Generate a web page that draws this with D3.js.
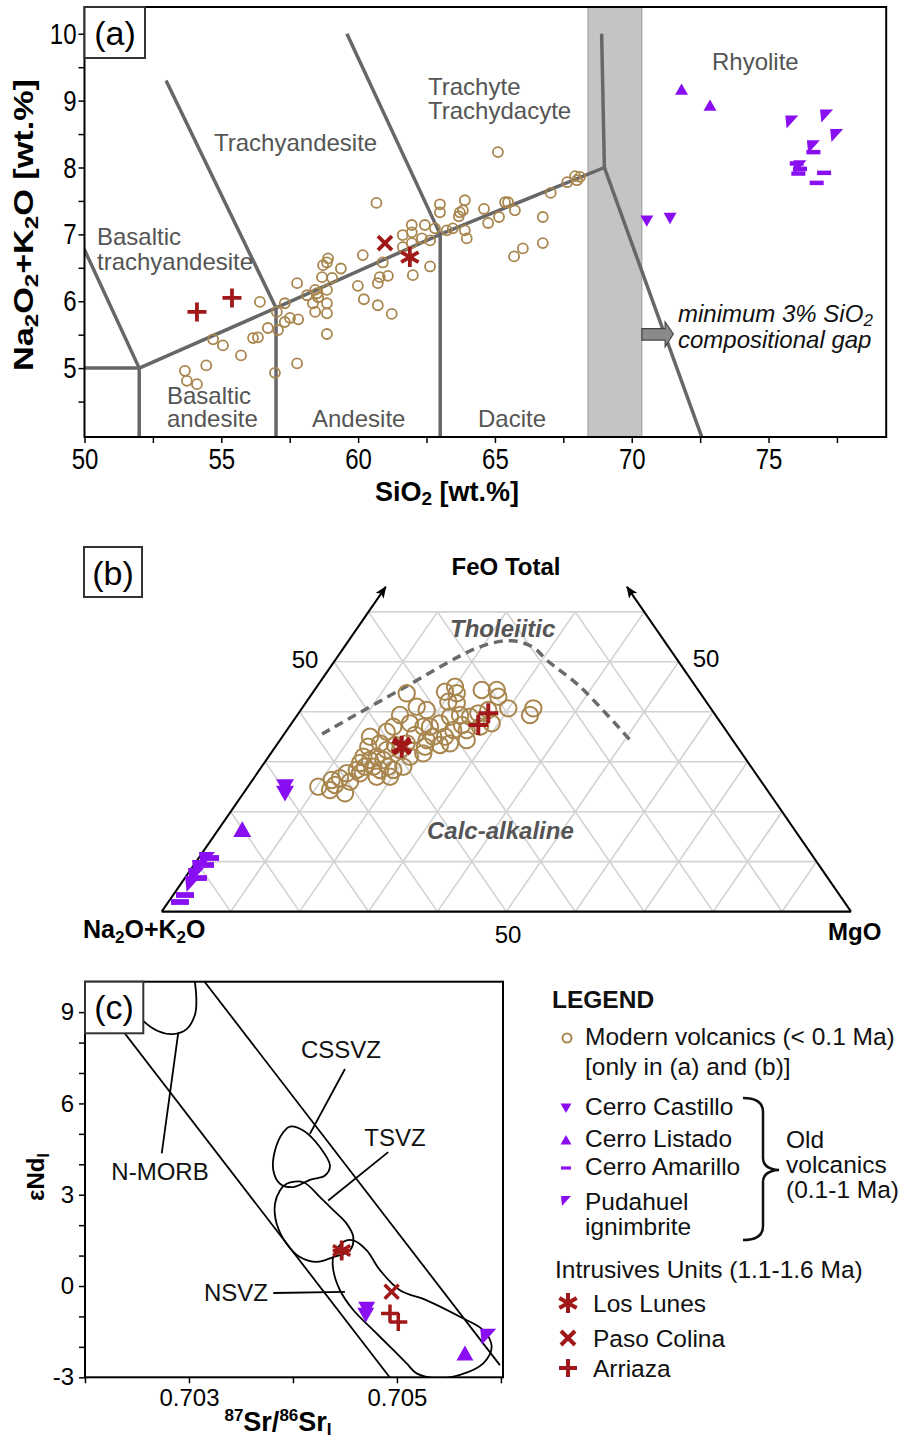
<!DOCTYPE html>
<html><head><meta charset="utf-8">
<script src="https://cdn.jsdelivr.net/npm/d3@7"></script>
<style>body{margin:0;background:#fff} svg{display:block;font-family:"Liberation Sans",Arial,sans-serif}</style>
</head><body><svg id="chart" width="904" height="1443"></svg>
<script>
// ================= DATA =================
// Panel (a) TAS: [SiO2, Na2O+K2O]
const xTicksA = [50,52.5,55,57.5,60,62.5,65,67.5,70,72.5,75,77.5];
const yTicksA = [4.5,5,5.5,6,6.5,7,7.5,8,8.5,9,9.5,10];
const modernTAS = [[60.67,7.47],[60.17,6.69],[60.79,6.36],[59.99,6.23],[60.21,6.03],[60.72,5.94],[59.37,6.49],[58.86,6.58],[58.72,6.54],[58.90,6.64],[58.68,6.36],[59.05,6.35],[58.43,6.17],[58.50,6.12],[58.54,6.06],[58.86,6.17],[58.13,6.09],[58.35,5.97],[58.86,5.97],[58.43,5.84],[58.86,5.82],[58.86,5.51],[57.77,6.27],[57.77,5.07],[57.32,5.97],[57.03,5.84],[57.07,5.57],[57.32,5.69],[57.51,5.75],[57.81,5.73],[56.41,5.99],[56.70,5.60],[56.16,5.45],[56.34,5.46],[54.70,5.43],[55.06,5.34],[55.72,5.19],[54.45,5.04],[53.67,4.96],[53.74,4.81],[54.11,4.76],[56.96,4.93],[65.11,8.23],[60.90,6.58],[60.72,6.27],[61.09,6.38],[61.23,5.81],[62.00,6.39],[62.63,6.52],[61.63,6.99],[61.96,7.14],[61.96,7.03],[62.33,6.94],[61.63,6.81],[61.96,6.87],[62.63,6.91],[62.44,7.14],[62.81,7.09],[62.99,7.45],[62.99,7.33],[63.24,7.06],[63.46,7.09],[63.72,7.33],[63.83,7.36],[63.68,7.27],[63.90,7.51],[63.97,6.94],[63.90,7.06],[64.60,7.38],[64.75,7.17],[65.15,7.26],[65.37,7.48],[65.48,7.48],[65.73,7.36],[67.04,7.62],[66.75,7.26],[66.75,6.87],[66.02,6.79],[65.70,6.67],[67.64,7.78],[67.93,7.87],[68.11,7.86],[68.00,7.81]];
const arriazaTAS = [[54.11,5.84],[55.39,6.05]];
const pasoColinaTAS = [[60.98,6.87]];
const losLunesTAS = [[61.89,6.66]];
const castilloTAS = [[70.55,7.20],[71.40,7.24]];
const listadoTAS = [[71.82,9.17],[72.86,8.93]];
const amarilloTAS = [[76.03,8.06],[76.15,7.98],[76.09,7.91],[77.03,7.92],[76.76,7.77],[76.64,8.23]];
const pudahuelTAS = [[75.85,8.68],[77.12,8.77],[77.49,8.48],[76.64,8.31],[76.15,8.01]];
const tasBoundaries = [
  [[49.4,7.3],[52,5]],
  [[45,5],[52,5]],
  [[52,0],[52,5]],
  [[52,5],[57,5.9],[63,7],[69,8]],
  [[57,0],[57,5.9]],
  [[63,0],[63,7]],
  [[52.98,9.3],[57,5.9]],
  [[59.59,10],[63,7]],
  [[68.9,10],[69,8]],
  [[69,8],[72.56,3.97]]
];
const gapBand = [68.4, 70.37];
const gapArrow = [[70.37,5.59],[71.22,5.59],[71.22,5.69],[71.52,5.51],[71.22,5.32],[71.22,5.42],[70.37,5.42]];

// Panel (b) AFM: [Na2O+K2O, FeO total, MgO]
const ternaryGrid = [10,20,30,40,50,60,70,80,90];
const modernAFM = [[64.78,25.0,10.22],[62.17,26.34,11.49],[62.19,25.34,12.47],[60.79,26.68,12.53],[59.32,27.68,13.0],[59.68,26.0,14.32],[61.58,23.67,14.75],[57.54,28.34,14.12],[56.01,29.0,14.99],[54.61,30.34,15.05],[53.31,31.0,15.69],[52.68,30.34,16.98],[54.8,29.0,16.2],[54.16,28.34,17.5],[52.63,29.0,18.37],[52.28,35.0,12.72],[53.53,33.0,13.47],[51.49,33.68,14.83],[49.36,36.0,14.64],[47.9,37.0,15.1],[45.76,39.34,14.9],[42.61,43.69,13.7],[42.51,41.0,16.49],[45.14,37.68,17.18],[47.62,33.68,18.7],[48.48,31.0,20.52],[50.45,29.0,20.55],[52.23,28.34,19.43],[43.55,37.0,19.45],[45.3,33.0,21.7],[49.26,32.34,18.4],[51.19,32.34,16.47],[55.25,31.0,13.75],[57.39,27.68,14.93],[55.31,27.0,17.69],[53.38,27.0,19.62],[41.39,40.34,18.27],[36.9,44.0,19.1],[34.95,45.0,20.05],[35.35,43.69,20.96],[37.42,42.0,20.58],[36.35,41.69,21.96],[31.4,44.35,24.25],[29.22,44.35,26.43],[29.67,43.0,27.33],[29.38,40.68,29.94],[25.75,40.68,33.57],[26.9,39.34,33.76],[32.45,40.34,27.21],[33.29,37.68,29.03],[35.77,39.0,25.23],[37.05,39.34,23.61],[38.67,39.0,22.33],[40.79,37.68,21.53],[42.58,37.0,20.42],[43.1,35.0,21.9],[41.4,35.0,23.6],[39.53,36.34,24.13],[37.58,36.34,26.08],[38.58,34.34,27.08],[41.33,33.68,24.99],[44.39,34.34,21.27],[46.21,31.68,22.11],[35.32,37.0,27.68],[34.23,39.68,26.09],[49.48,33.34,17.18],[56.36,29.74,13.9],[63.42,24.33,12.25],[45.57,35.36,19.07],[37.76,37.34,24.9],[42.96,33.34,23.7]];
const losLunesAFM = [[48.68,33.0,18.32]];
const pasoColinaAFM = [[48.57,33.14,18.29]];
const arriazaAFM = [[32.78,39.68,27.54],[35.4,37.34,27.26]];
const castilloAFM = [[69.61,25.0,5.39],[70.28,23.67,6.05]];
const listadoAFM = [[80.08,16.47,3.45]];
const pudahuelAFM = [[88.26,10.33,1.41],[90.07,8.73,1.2],[91.46,7.12,1.42],[92.7,5.52,1.78]];
const amarilloAFM = [[87.62,10.73,1.65],[89.05,9.33,1.62],[94.96,3.32,1.72],[96.39,1.92,1.69],[91.37,6.72,1.91]];
const tholeiiticBoundary = [[58.97,35.54,5.49],[43.26,44.35,12.39],[27.32,53.0,19.68],[22.12,54.21,23.67],[19.65,52.89,27.46],[18.98,50.35,30.67],[16.8,45.01,38.19],[14.89,34.34,50.77]];

// Panel (c) isotopes: [87Sr/86Sr_i, eNd_i]
const xTicksC = [0.702,0.703,0.704,0.705,0.706];
const xLabelsC = [0.703,0.705];
const yTicksC = [-3,-2,-1,0,1,2,3,4,5,6,7,8,9];
const yLabelsC = [-3,0,3,6,9];
const mantleLower = [[0.70200,10],[0.70493,-3]];
const mantleUpper = [[0.70315,10],[0.70599,-2.6]];
const nmorbField = [[0.70235,9.6],[0.70256,8.71],[0.70270,8.38],[0.70285,8.28],[0.70298,8.45],[0.70306,8.95],[0.70307,9.5],[0.70304,10.4]];
const cssvzField = [[0.703971,5.24],[0.704099,5.11],[0.704260,4.56],[0.704356,3.96],[0.704308,3.63],[0.704163,3.49],[0.704003,3.25],[0.703875,3.36],[0.703811,3.80],[0.703827,4.45],[0.703907,5.05]];
const tsvzField = [[0.703939,3.36],[0.704099,3.41],[0.704260,2.92],[0.704388,2.49],[0.704516,2.05],[0.704580,1.61],[0.704548,1.17],[0.704388,0.95],[0.704228,0.79],[0.704067,0.95],[0.703939,1.39],[0.703843,2.05],[0.703827,2.70],[0.703875,3.14]];
const nsvzField = [[0.704388,0.95],[0.704484,1.45],[0.704580,1.50],[0.704709,1.17],[0.704837,0.52],[0.705029,-0.14],[0.705286,-0.47],[0.705606,-1.01],[0.705830,-1.45],[0.705911,-2.00],[0.705830,-2.54],[0.705606,-2.92],[0.705382,-3.03],[0.705189,-2.87],[0.705093,-2.54],[0.704964,-2.10],[0.704772,-1.45],[0.704580,-0.79],[0.704452,-0.14],[0.704388,0.52]];
const leadersC = [
  [[0.702897,8.33],[0.702738,4.36]],
  [[0.704163,5.0],[0.704500,7.13]],
  [[0.704339,2.81],[0.704916,4.40]],
  [[0.703811,-0.23],[0.704500,-0.19]]
];
const losLunesIso = [[0.704468,1.17]];
const pasoColinaIso = [[0.704949,-0.19]];
const arriazaIso = [[0.704468,1.17],[0.704933,-0.90],[0.705013,-1.18]];
const castilloIso = [[0.704709,-0.75],[0.704700,-0.95]];
const listadoIso = [[0.705654,-2.21]];
const pudahuelIso = [[0.705878,-1.67]];

// ================= STYLE =================
const TAN="#a8864e", RED="#a01818", PUR="#8a0ef2", BLINE="#676767", LBL="#555";
const svg = d3.select("#chart");
svg.append("rect").attr("width",904).attr("height",1443).attr("fill","#fff");

function sym(g, type, x, y, s, sw){
  const r = s/2;
  switch(type){
    case "circle": return g.append("circle").attr("cx",x).attr("cy",y).attr("r",s).attr("fill","none").attr("stroke",TAN).attr("stroke-width",sw||2);
    case "down": return g.append("path").attr("d",`M${x-r},${y-s*0.42}L${x+r},${y-s*0.42}L${x},${y+s*0.45}Z`).attr("fill",PUR);
    case "up": return g.append("path").attr("d",`M${x-r},${y+s*0.42}L${x+r},${y+s*0.42}L${x},${y-s*0.45}Z`).attr("fill",PUR);
    case "dash": return g.append("rect").attr("x",x-r).attr("y",y-s*0.16).attr("width",s).attr("height",s*0.32).attr("fill",PUR);
    case "pud": return g.append("path").attr("d",`M${x-r},${y-r}L${x+r},${y-r}L${x-r+s*0.1},${y+r}Z`).attr("fill",PUR);
    case "plus": return g.append("path").attr("d",`M${x-r},${y}H${x+r}M${x},${y-r}V${y+r}`).attr("stroke",RED).attr("stroke-width",sw||4).attr("fill","none");
    case "x": return g.append("path").attr("d",`M${x-r},${y-r}L${x+r},${y+r}M${x+r},${y-r}L${x-r},${y+r}`).attr("stroke",RED).attr("stroke-width",sw||4).attr("fill","none");
    case "ast": {
      const c=Math.cos(Math.PI/6)*r, sn=Math.sin(Math.PI/6)*r;
      return g.append("path").attr("d",`M${x},${y-r}V${y+r}M${x-c},${y-sn}L${x+c},${y+sn}M${x-c},${y+sn}L${x+c},${y-sn}`).attr("stroke",RED).attr("stroke-width",sw||4).attr("fill","none");
    }
  }
}

// ================= PANEL (a) =================
const ax = d3.scaleLinear().domain([50,79.3]).range([84.5,886.2]);
const ay = d3.scaleLinear().domain([3.97,10.4]).range([437,7]);
const gA = svg.append("g");
svg.append("clipPath").attr("id","clipA").append("rect").attr("x",84.5).attr("y",7).attr("width",801.7).attr("height",430);
const pA = gA.append("g").attr("clip-path","url(#clipA)");
pA.append("rect").attr("x",ax(gapBand[0])).attr("y",7).attr("width",ax(gapBand[1])-ax(gapBand[0])).attr("height",430)
  .attr("fill","#c4c4c4").attr("stroke","#9a9a9a").attr("stroke-width",1);
const lineA = d3.line().x(d=>ax(d[0])).y(d=>ay(d[1]));
tasBoundaries.forEach(b=>pA.append("path").attr("d",lineA(b)).attr("fill","none").attr("stroke",BLINE).attr("stroke-width",3.5).attr("stroke-linejoin","round"));
pA.append("path").attr("d",lineA(gapArrow)+"Z").attr("fill","#8a8a8a").attr("stroke","#444").attr("stroke-width",1.2);

// region labels
const regA = gA.append("g").attr("fill",LBL).attr("font-size",24);
[["Basaltic",97,245],["trachyandesite",97,270],["Trachyandesite",214,151],["Trachyte",428,95],["Trachydacyte",428,119],
 ["Rhyolite",712,70],["Basaltic",167,404],["andesite",167,427],["Andesite",312,427],["Dacite",478,427]]
 .forEach(([t,x,y])=>regA.append("text").attr("x",x).attr("y",y).text(t));
const gapT = gA.append("g").attr("font-size",24).attr("font-style","italic").attr("fill","#111");
const t1 = gapT.append("text").attr("x",678).attr("y",322);
t1.append("tspan").text("minimum 3% SiO");
t1.append("tspan").attr("font-size",17).attr("dy",4).text("2");
gapT.append("text").attr("x",678).attr("y",348).text("compositional gap");

modernTAS.forEach(d=>sym(pA,"circle",ax(d[0]),ay(d[1]),5,1.8));
castilloTAS.forEach(d=>sym(pA,"down",ax(d[0]),ay(d[1]),13));
listadoTAS.forEach(d=>sym(pA,"up",ax(d[0]),ay(d[1]),13));
pudahuelTAS.forEach(d=>sym(pA,"pud",ax(d[0]),ay(d[1]),13));
amarilloTAS.forEach(d=>sym(pA,"dash",ax(d[0]),ay(d[1]),14));
arriazaTAS.forEach(d=>sym(pA,"plus",ax(d[0]),ay(d[1]),19,3.8));
pasoColinaTAS.forEach(d=>sym(pA,"x",ax(d[0]),ay(d[1]),14,3.8));
losLunesTAS.forEach(d=>sym(pA,"ast",ax(d[0]),ay(d[1]),20,3.8));

// axes a
const xAxA = gA.append("g").attr("transform","translate(0,437)")
  .call(d3.axisBottom(ax).tickValues(xTicksA).tickSize(6).tickSizeOuter(0).tickPadding(5).tickFormat(d=>d%5===0?d:""));
const yAxA = gA.append("g").attr("transform","translate(84.5,0)")
  .call(d3.axisLeft(ay).tickValues(yTicksA).tickSize(6).tickSizeOuter(0).tickPadding(4).tickFormat(d=>Number.isInteger(d)?d:""));
[xAxA,yAxA].forEach(a=>{a.selectAll("path.domain").remove();a.selectAll("line").attr("stroke","#000").attr("stroke-width",1.5);
  a.selectAll("text").attr("font-size",30).attr("fill","#000").attr("font-family","Liberation Sans, Arial").attr("transform","scale(0.8,1)");});
gA.append("rect").attr("x",84.5).attr("y",7).attr("width",801.7).attr("height",430).attr("fill","none").attr("stroke","#000").attr("stroke-width",2);
gA.append("rect").attr("x",84.5).attr("y",7).attr("width",60.5).attr("height",51).attr("fill","#fff").attr("stroke","#333").attr("stroke-width",2);
gA.append("text").attr("x",115).attr("y",45).attr("text-anchor","middle").attr("font-size",34).text("(a)");
const xlA = gA.append("text").attr("x",447).attr("y",501).attr("text-anchor","middle").attr("font-size",27).attr("font-weight","bold");
xlA.append("tspan").text("SiO");
xlA.append("tspan").attr("font-size",19).attr("dy",4).text("2");
xlA.append("tspan").attr("dy",-4).text(" [wt.%]");
const ylA = gA.append("text").attr("transform","translate(33,225) rotate(-90)").attr("text-anchor","middle").attr("font-size",27).attr("font-weight","bold")
  .attr("textLength",292).attr("lengthAdjust","spacingAndGlyphs");
ylA.append("tspan").text("Na");
ylA.append("tspan").attr("font-size",19).attr("dy",5).text("2");
ylA.append("tspan").attr("dy",-5).text("O");
ylA.append("tspan").attr("font-size",19).attr("dy",5).text("2");
ylA.append("tspan").attr("dy",-5).text("+K");
ylA.append("tspan").attr("font-size",19).attr("dy",5).text("2");
ylA.append("tspan").attr("dy",-5).text("O [wt.%]");

// ================= PANEL (b) =================
const tx = d3.scaleLinear().domain([0,100]).range([161.7,851]);
const ty = d3.scaleLinear().domain([0,100]).range([911.6,412]);
const tp = d => [tx(d[2] + d[1]/2), ty(d[1])];
const gB = svg.append("g");
const tline = d3.line().x(d=>tp(d)[0]).y(d=>tp(d)[1]);
const grid = gB.append("g").attr("stroke","#d2d2d2").attr("stroke-width",1.6).attr("fill","none");
ternaryGrid.filter(f=>f<=60).forEach(f=>grid.append("path").attr("d",tline([[100-f,f,0],[0,f,100-f]])));
ternaryGrid.forEach(a=>{const fm=Math.min(60,100-a); grid.append("path").attr("d",tline([[a,0,100-a],[a,fm,100-a-fm]]));});
ternaryGrid.forEach(m=>{const fm=Math.min(60,100-m); grid.append("path").attr("d",tline([[100-m,0,m],[100-m-fm,fm,m]]));});
const defs = svg.append("defs");
defs.append("marker").attr("id","arr").attr("viewBox","0 0 12 10").attr("refX",11).attr("refY",5)
  .attr("markerWidth",12).attr("markerHeight",10).attr("markerUnits","userSpaceOnUse").attr("orient","auto")
  .append("path").attr("d","M0,0L12,5L0,10L3,5Z").attr("fill","#000");
gB.append("path").attr("d",tline([[100,0,0],[35,65,0]])).attr("stroke","#000").attr("stroke-width",2).attr("marker-end","url(#arr)");
gB.append("path").attr("d",tline([[0,0,100],[0,65,35]])).attr("stroke","#000").attr("stroke-width",2).attr("marker-end","url(#arr)");
gB.append("path").attr("d",tline([[100,0,0],[0,0,100]])).attr("stroke","#000").attr("stroke-width",2.2);
gB.append("path").attr("d",d3.line().curve(d3.curveCatmullRom.alpha(0.5)).x(d=>tp(d)[0]).y(d=>tp(d)[1])(tholeiiticBoundary))
  .attr("fill","none").attr("stroke","#6a6a6a").attr("stroke-width",3.5).attr("stroke-dasharray","9,6");
const lb = gB.append("g").attr("font-size",24).attr("font-weight","bold").attr("font-style","italic").attr("fill",LBL);
lb.append("text").attr("x",450).attr("y",637).text("Tholeiitic");
lb.append("text").attr("x",427).attr("y",839).text("Calc-alkaline");
modernAFM.forEach(d=>{const p=tp(d); sym(gB,"circle",p[0],p[1],8.2,2);});
castilloAFM.forEach(d=>{const p=tp(d); sym(gB,"down",p[0],p[1],18);});
listadoAFM.forEach(d=>{const p=tp(d); sym(gB,"up",p[0],p[1],18);});
pudahuelAFM.forEach(d=>{const p=tp(d); sym(gB,"pud",p[0],p[1],16);});
amarilloAFM.forEach(d=>{const p=tp(d); sym(gB,"dash",p[0],p[1],18);});
arriazaAFM.forEach(d=>{const p=tp(d); sym(gB,"plus",p[0],p[1],20,4);});
pasoColinaAFM.forEach(d=>{const p=tp(d); sym(gB,"x",p[0],p[1],16,4);});
losLunesAFM.forEach(d=>{const p=tp(d); sym(gB,"ast",p[0],p[1],22,4);});
const bt = gB.append("g").attr("font-size",24).attr("fill","#000");
bt.append("text").attr("x",305).attr("y",668).attr("text-anchor","middle").text("50");
bt.append("text").attr("x",706).attr("y",667).attr("text-anchor","middle").text("50");
bt.append("text").attr("x",508).attr("y",943).attr("text-anchor","middle").text("50");
bt.append("text").attr("x",506).attr("y",575).attr("text-anchor","middle").attr("font-weight","bold").text("FeO Total");
bt.append("text").attr("x",828).attr("y",940).attr("font-weight","bold").text("MgO");
const nak = bt.append("text").attr("x",83).attr("y",938).attr("font-weight","bold").attr("font-size",25);
nak.append("tspan").text("Na"); nak.append("tspan").attr("font-size",17).attr("dy",5).text("2");
nak.append("tspan").attr("dy",-5).text("O+K"); nak.append("tspan").attr("font-size",17).attr("dy",5).text("2");
nak.append("tspan").attr("dy",-5).text("O");
gB.append("rect").attr("x",84).attr("y",547).attr("width",58).attr("height",50).attr("fill","#fff").attr("stroke","#333").attr("stroke-width",2);
gB.append("text").attr("x",113).attr("y",585).attr("text-anchor","middle").attr("font-size",34).text("(b)");

// ================= PANEL (c) =================
const cx = d3.scaleLinear().domain([0.702,0.70602]).range([85,503]);
const cy = d3.scaleLinear().domain([-3,10]).range([1377.3,981.7]);
const gC = svg.append("g");
svg.append("clipPath").attr("id","clipC").append("rect").attr("x",85).attr("y",981.7).attr("width",418).attr("height",395.6);
const pC = gC.append("g").attr("clip-path","url(#clipC)");
const lineC = d3.line().x(d=>cx(d[0])).y(d=>cy(d[1]));
const closedC = d3.line().curve(d3.curveCatmullRomClosed.alpha(0.5)).x(d=>cx(d[0])).y(d=>cy(d[1]));
const openC = d3.line().curve(d3.curveCatmullRom.alpha(0.5)).x(d=>cx(d[0])).y(d=>cy(d[1]));
const stC = s=>s.attr("fill","none").attr("stroke","#000").attr("stroke-width",1.8);
stC(pC.append("path").attr("d",lineC(mantleLower)));
stC(pC.append("path").attr("d",lineC(mantleUpper)));
stC(pC.append("path").attr("d",openC(nmorbField)));
stC(pC.append("path").attr("d",closedC(cssvzField)));
stC(pC.append("path").attr("d",closedC(tsvzField)));
stC(pC.append("path").attr("d",closedC(nsvzField)));
leadersC.forEach(l=>stC(pC.append("path").attr("d",lineC(l))));
castilloIso.forEach(d=>sym(pC,"down",cx(d[0]),cy(d[1]),17));
listadoIso.forEach(d=>sym(pC,"up",cx(d[0]),cy(d[1]),17));
pudahuelIso.forEach(d=>sym(pC,"pud",cx(d[0]),cy(d[1]),16));
arriazaIso.forEach(d=>sym(pC,"plus",cx(d[0]),cy(d[1]),18,3.5));
pasoColinaIso.forEach(d=>sym(pC,"x",cx(d[0]),cy(d[1]),14,3.5));
losLunesIso.forEach(d=>sym(pC,"ast",cx(d[0]),cy(d[1]),20,3.5));
const lc = gC.append("g").attr("font-size",24).attr("text-anchor","middle").attr("fill","#111");
lc.append("text").attr("x",341).attr("y",1058).text("CSSVZ");
lc.append("text").attr("x",395).attr("y",1146).text("TSVZ");
lc.append("text").attr("x",160).attr("y",1180).text("N-MORB");
lc.append("text").attr("x",236).attr("y",1301).text("NSVZ");
const xAxC = gC.append("g").attr("transform","translate(0,1377.3)")
  .call(d3.axisBottom(cx).tickValues(xTicksC).tickSize(6).tickSizeOuter(0).tickPadding(6).tickFormat(d=>xLabelsC.some(v=>Math.abs(v-d)<1e-9)?d3.format(".3f")(d):""));
const yAxC = gC.append("g").attr("transform","translate(85,0)")
  .call(d3.axisLeft(cy).tickValues(yTicksC).tickSize(6).tickSizeOuter(0).tickPadding(5).tickFormat(d=>yLabelsC.includes(d)?d:""));
[xAxC,yAxC].forEach(a=>{a.selectAll("path.domain").remove();a.selectAll("line").attr("stroke","#000").attr("stroke-width",1.5);
  a.selectAll("text").attr("font-size",24).attr("fill","#000").attr("font-family","Liberation Sans, Arial");});
gC.append("rect").attr("x",85).attr("y",981.7).attr("width",418).attr("height",395.6).attr("fill","none").attr("stroke","#000").attr("stroke-width",2);
gC.append("rect").attr("x",85).attr("y",981.7).attr("width",58.3).attr("height",51.6).attr("fill","#fff").attr("stroke","#333").attr("stroke-width",2);
gC.append("text").attr("x",114).attr("y",1019).attr("text-anchor","middle").attr("font-size",34).text("(c)");
const xlC = gC.append("text").attr("x",278).attr("y",1431).attr("text-anchor","middle").attr("font-size",27).attr("font-weight","bold");
xlC.append("tspan").attr("font-size",17).attr("dy",-10).text("87");
xlC.append("tspan").attr("dy",10).text("Sr/");
xlC.append("tspan").attr("font-size",17).attr("dy",-10).text("86");
xlC.append("tspan").attr("dy",10).text("Sr");
xlC.append("tspan").attr("font-size",17).attr("dy",4).text("I");
const ylC = gC.append("text").attr("transform","translate(44,1177) rotate(-90)").attr("text-anchor","middle").attr("font-size",24).attr("font-weight","bold");
ylC.append("tspan").text("εNd");
ylC.append("tspan").attr("font-size",16).attr("dy",5).text("I");

// ================= LEGEND =================
const gL = svg.append("g").attr("font-size",24.5).attr("fill","#111");
gL.append("text").attr("x",552).attr("y",1008).attr("font-weight","bold").text("LEGEND");
sym(gL,"circle",567,1038,4.5,2);
gL.append("text").attr("x",585).attr("y",1045).text("Modern volcanics (< 0.1 Ma)");
gL.append("text").attr("x",585).attr("y",1075).text("[only in (a) and (b)]");
sym(gL,"down",566,1108,11); gL.append("text").attr("x",585).attr("y",1115).text("Cerro Castillo");
sym(gL,"up",566,1140,11); gL.append("text").attr("x",585).attr("y",1147).text("Cerro Listado");
sym(gL,"dash",566,1168,10); gL.append("text").attr("x",585).attr("y",1175).text("Cerro Amarillo");
sym(gL,"pud",566,1201,10); gL.append("text").attr("x",585).attr("y",1210).text("Pudahuel");
gL.append("text").attr("x",585).attr("y",1235).text("ignimbrite");
gL.append("path").attr("d","M743,1098Q763,1098 763,1112L763,1158Q763,1169 779,1170Q763,1171 763,1182L763,1226Q763,1240 743,1240")
  .attr("fill","none").attr("stroke","#111").attr("stroke-width",2.5);
gL.append("text").attr("x",786).attr("y",1148).text("Old");
gL.append("text").attr("x",786).attr("y",1173).text("volcanics");
gL.append("text").attr("x",786).attr("y",1198).text("(0.1-1 Ma)");
gL.append("text").attr("x",555).attr("y",1278).text("Intrusives Units (1.1-1.6 Ma)");
sym(gL,"ast",568,1303,20,4); gL.append("text").attr("x",593).attr("y",1312).text("Los Lunes");
sym(gL,"x",568,1338,14,4); gL.append("text").attr("x",593).attr("y",1347).text("Paso Colina");
sym(gL,"plus",568,1368,18,4); gL.append("text").attr("x",593).attr("y",1377).text("Arriaza");
</script></body></html>
